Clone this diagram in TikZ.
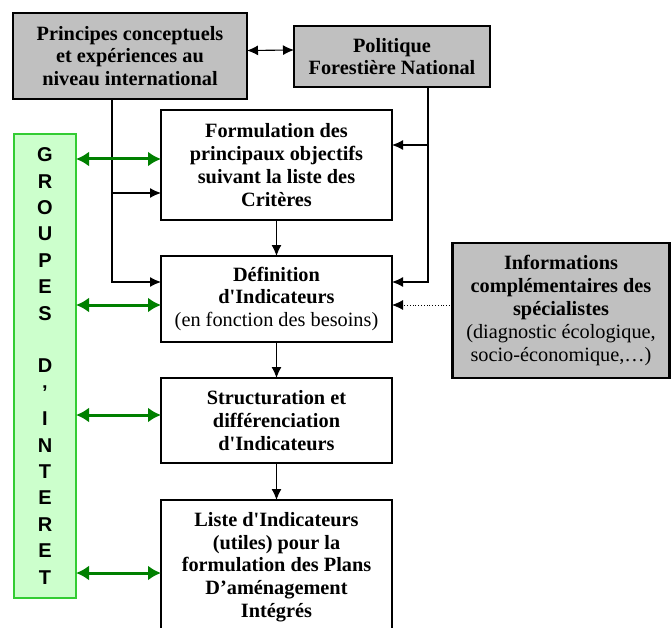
\documentclass[tikz,border=0pt]{standalone}
\usepackage{fontspec}
\setmainfont{Liberation Serif}[Ligatures=TeXOff]
\setsansfont{Liberation Sans}[Ligatures=TeXOff]
\usetikzlibrary{arrows.meta}
\definecolor{boxgray}{HTML}{C0C0C0}
\definecolor{lgreen}{HTML}{CCFFCC}
\definecolor{bgreen}{HTML}{33CC33}
\definecolor{dgreen}{HTML}{008000}
\begin{document}
\begin{tikzpicture}[x=1pt,y=-1pt,
  every node/.style={inner sep=0pt, outer sep=0pt},
  txt/.style={align=center, font=\bfseries\fontsize{20.3}{22.8}\selectfont},
  graybox/.style={txt, draw=black, line width=2.2pt, fill=boxgray},
  whitebox/.style={txt, draw=black, line width=1.1pt, fill=white},
  greenbox/.style={draw=bgreen, line width=2.2pt, fill=lgreen, align=center,
    font=\sffamily\bfseries\fontsize{20}{26.4}\selectfont},
  arr/.style={line width=1.1pt, -{Latex[length=11pt,width=10pt]}},
  darr/.style={line width=1.1pt, {Latex[length=11pt,width=10pt]}-{Latex[length=11pt,width=10pt]}},
  dotarr/.style={line width=0.8pt, dotted, -{Latex[length=11pt,width=10pt]}},
  garr/.style={draw=dgreen, line width=3pt, {Latex[length=13pt,width=15pt]}-{Latex[length=13pt,width=15pt]}}]
\clip (0,0) rectangle (671,628);
\fill[white] (0,0) rectangle (671,628);

\node[graybox, minimum width=234pt, minimum height=86pt] (A) at (130,56)
  {Principes conceptuels\\et expériences au\\niveau international};
\node[graybox, minimum width=196pt, minimum height=61pt] (B) at (392,56.5)
  {Politique\\Forestière National};
\node[whitebox, minimum width=231pt, minimum height=110pt] (F) at (276.5,165)
  {Formulation des\\principaux objectifs\\suivant la liste des\\Critères};
\node[whitebox, minimum width=231pt, minimum height=86pt] (D) at (276.5,299)
  {Définition\\d'Indicateurs\\\mdseries (en fonction des besoins)};
\node[whitebox, minimum width=231pt, minimum height=85pt] (S) at (276.5,420.5)
  {Structuration et\\différenciation\\d'Indicateurs};
\node[whitebox, minimum width=231pt, minimum height=134pt] (L) at (276.5,567)
  {Liste d'Indicateurs\\(utiles) pour la\\formulation des Plans\\D’aménagement\\Intégrés};
\node[graybox, minimum width=217pt, minimum height=135pt] (I) at (561,310.5)
  {Informations\\complémentaires des\\spécialistes\\\mdseries (diagnostic écologique,\\\mdseries socio-économique,…)};
\node[greenbox, minimum width=62pt, minimum height=464pt] (G) at (45,366)
  {G\\R\\O\\U\\P\\E\\S\\[26.4pt]D\\’\\I\\N\\T\\E\\R\\E\\T};

% top link
\draw[darr] ([yshift=5.5pt]A.east) -- ([yshift=6.5pt]B.west);

% left trunk from A
\coordinate (aj) at ([xshift=99pt]A.south west);
\coordinate (fin) at ([yshift=-28pt]F.west);
\coordinate (din) at ([yshift=17pt]D.west);
\draw[arr] (aj) |- (din);
\draw[arr] (aj |- fin) -- (fin);

% right trunk from B
\coordinate (bj) at ([xshift=36pt]B.south);
\coordinate (fin2) at ([yshift=20pt]F.east);
\coordinate (din2) at ([yshift=17pt]D.east);
\draw[arr] (bj) |- (din2);
\draw[arr] (bj |- fin2) -- (fin2);

% vertical chain
\draw[arr] (F) -- (D);
\draw[arr] (D) -- (S);
\draw[arr] (S) -- (L);

% dotted from specialists
\coordinate (dot) at ([yshift=-6pt]D.east);
\draw[dotarr] (I.west |- dot) -- (dot);

% green arrows
\coordinate (g1) at ([yshift=6pt]F.west);
\coordinate (g2) at ([yshift=-6pt]D.west);
\coordinate (g3) at ([yshift=5.5pt]S.west);
\coordinate (g4) at ([yshift=-6pt]L.west);
\draw[garr] (G.east |- g1) -- (g1);
\draw[garr] (G.east |- g2) -- (g2);
\draw[garr] (G.east |- g3) -- (g3);
\draw[garr] (G.east |- g4) -- (g4);
\end{tikzpicture}
\end{document}
